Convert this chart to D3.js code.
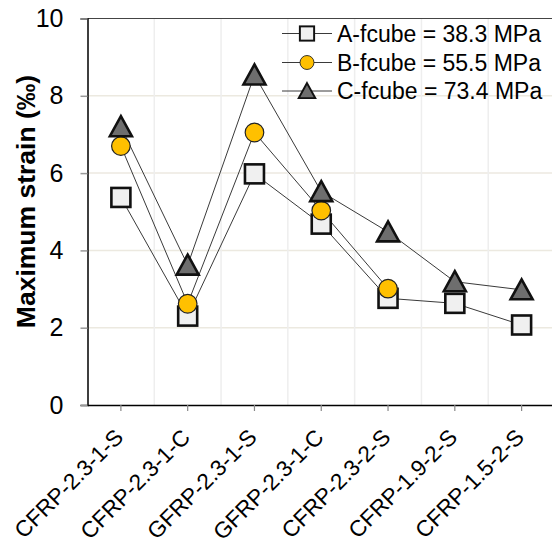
<!DOCTYPE html>
<html><head><meta charset="utf-8">
<script src="https://cdn.jsdelivr.net/npm/d3@7"></script>
<style>body{margin:0;background:#fff;}svg{display:block;font-family:"Liberation Sans",Arial,sans-serif;}</style>
</head><body>
<svg id="c" width="552" height="545"></svg>
<script>
const categories = ["CFRP-2.3-1-S","CFRP-2.3-1-C","GFRP-2.3-1-S","GFRP-2.3-1-C","CFRP-2.3-2-S","CFRP-1.9-2-S","CFRP-1.5-2-S"];
const seriesA = [5.37, 2.30, 5.98, 4.68, 2.76, 2.63, 2.07];
const seriesB = [6.70, 2.62, 7.05, 5.03, 3.01];
const seriesC = [7.20, 3.62, 8.54, 5.52, 4.48, 3.19, 2.98];
const seriesNames = ["A-fcube = 38.3 MPa","B-fcube = 55.5 MPa","C-fcube = 73.4 MPa"];
const yTicks = [0,2,4,6,8,10];

const svg = d3.select("#c");
const L=87.5, R=555, T=18.5, B=405;
const x = d3.scaleBand().domain(categories).range([L,R]);
const y = d3.scaleLinear().domain([0,10]).range([B,T]);
const cx = c => x(c)+x.bandwidth()/2;

// gridlines
svg.append("g").selectAll("line").data(yTicks.filter(d=>d>0&&d<10)).join("line")
  .attr("x1",L).attr("x2",R).attr("y1",d=>y(d)).attr("y2",d=>y(d))
  .attr("stroke","#ece9e0").attr("stroke-width",1.5);
svg.append("g").selectAll("line").data(categories.slice(1)).join("line")
  .attr("x1",d=>x(d)).attr("x2",d=>x(d)).attr("y1",T).attr("y2",B)
  .attr("stroke","#eeeeee").attr("stroke-width",1.5);
// top border
svg.append("line").attr("x1",L).attr("x2",R).attr("y1",T).attr("y2",T).attr("stroke","#444").attr("stroke-width",1.2);

// y axis
const ya = svg.append("g").attr("transform",`translate(${L},0)`)
  .call(d3.axisLeft(y).tickValues(yTicks).tickSize(7).tickPadding(17).tickFormat(d3.format("d")));
ya.select(".domain").attr("stroke","#000").attr("stroke-width",1.5);
ya.selectAll(".tick line").attr("stroke","#999").attr("stroke-width",1.5);
ya.selectAll(".tick text").attr("font-size",25).attr("fill","#000").attr("font-family","Liberation Sans, Arial, sans-serif");

// x axis
const xa = svg.append("g").attr("transform",`translate(0,${B})`)
  .call(d3.axisBottom(x).tickSize(6).tickSizeOuter(0));
xa.select(".domain").attr("stroke","#000").attr("stroke-width",1.5);
xa.selectAll(".tick line").attr("stroke","#888").attr("stroke-width",1.2);
xa.selectAll(".tick text").attr("font-size",22.5).attr("fill","#000")
  .attr("font-family","Liberation Sans, Arial, sans-serif")
  .attr("x",0).attr("y",0)
  .attr("text-anchor","end").attr("dy","0.36em")
  .attr("transform","translate(-2,28) rotate(-45)");

// y title
svg.append("text").attr("transform",`translate(35,201.5) rotate(-90)`)
  .attr("text-anchor","middle").attr("font-weight","bold").attr("font-size",26.5)
  .text("Maximum strain (‰)");

const line = d3.line().x((d,i)=>cx(categories[i])).y(d=>y(d));
const allSeries = [seriesA, seriesB, seriesC];
allSeries.forEach(s=>{
  svg.append("path").datum(s).attr("d",line).attr("fill","none").attr("stroke","#3a3a3a").attr("stroke-width",1);
});

function marker(g, type){
  if(type===0) g.append("rect").attr("x",-9.5).attr("y",-9.5).attr("width",19).attr("height",19)
      .attr("fill","#f0f0f0").attr("stroke","#111").attr("stroke-width",2.6);
  else if(type===1) g.append("circle").attr("r",9.3).attr("fill","#ffc000").attr("stroke","#222").attr("stroke-width",1.2);
  else g.append("path").attr("d","M0,-10.5L11,9.5L-11,9.5Z").attr("fill","#6e6e6e").attr("stroke","#111").attr("stroke-width",2.6).attr("stroke-linejoin","miter");
}
allSeries.forEach((s,k)=>{
  s.forEach((v,i)=>{
    const g = svg.append("g").attr("transform",`translate(${cx(categories[i])},${y(v)})`);
    marker(g,k);
  });
});

// legend
const lx0=282, lx1=332, lmx=307, ly=[33.5,62.5,91];
seriesNames.forEach((n,k)=>{
  svg.append("line").attr("x1",lx0).attr("x2",lx1).attr("y1",ly[k]).attr("y2",ly[k]).attr("stroke","#3a3a3a").attr("stroke-width",1);
  const g = svg.append("g").attr("transform",`translate(${lmx},${ly[k]}) scale(0.75)`);
  marker(g,k);
  svg.append("text").attr("x",337).attr("y",ly[k]).attr("dy","0.36em").attr("font-size",23).text(n);
});
</script>
</body></html>
